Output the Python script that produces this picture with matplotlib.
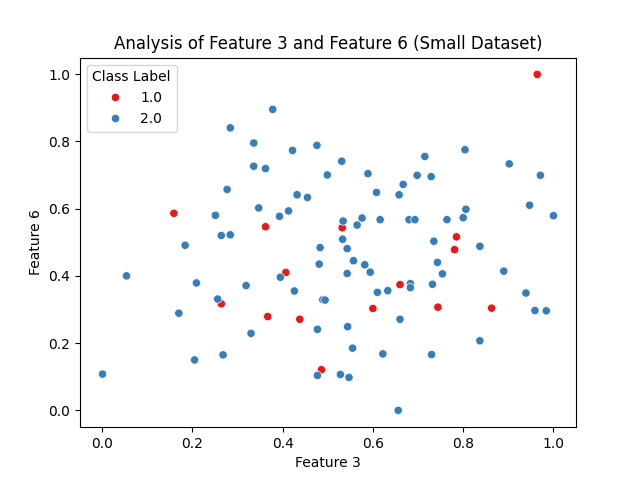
import numpy as np
import pandas as pd
import matplotlib
matplotlib.use("Agg")
import matplotlib.pyplot as plt
import seaborn as sns

# class 1.0 points
x_c1 = [0.964, 0.159, 0.362, 0.532, 0.785, 0.781, 0.407, 0.264, 0.367, 0.438,
        0.600, 0.660, 0.744, 0.863, 0.486]
y_c1 = [0.999, 0.586, 0.546, 0.543, 0.516, 0.478, 0.410, 0.317, 0.279, 0.271,
        0.303, 0.374, 0.307, 0.304, 0.121]

# class 2.0 points
x_c2 = [0.378, 0.284, 0.336, 0.422, 0.476, 0.336, 0.362, 0.499, 0.277, 0.432,
        0.455, 0.347, 0.251, 0.393, 0.413, 0.264, 0.284, 0.184, 0.483,
        0.804, 0.715, 0.531, 0.902, 0.589, 0.698, 0.729, 0.971, 0.667, 0.608,
        0.658, 0.947, 0.806, 0.800, 1.000, 0.534, 0.576, 0.565, 0.616, 0.680,
        0.693, 0.764, 0.533, 0.735, 0.837, 0.543,
        0.481, 0.054, 0.209, 0.395, 0.319, 0.426, 0.256, 0.489, 0.494, 0.170,
        0.477, 0.330, 0.268, 0.205, 0.001, 0.477,
        0.557, 0.582, 0.543, 0.594, 0.743, 0.754, 0.890, 0.683, 0.683, 0.732,
        0.610, 0.633, 0.939, 0.959, 0.984, 0.660, 0.544, 0.837, 0.555, 0.622,
        0.730, 0.528, 0.547, 0.656]
y_c2 = [0.895, 0.840, 0.795, 0.773, 0.788, 0.726, 0.719, 0.700, 0.657, 0.641,
        0.633, 0.602, 0.580, 0.577, 0.593, 0.520, 0.522, 0.491, 0.484,
        0.775, 0.755, 0.741, 0.733, 0.704, 0.699, 0.695, 0.699, 0.672, 0.648,
        0.641, 0.610, 0.598, 0.573, 0.579, 0.563, 0.572, 0.551, 0.567, 0.567,
        0.567, 0.567, 0.509, 0.503, 0.488, 0.481,
        0.435, 0.400, 0.379, 0.396, 0.371, 0.355, 0.331, 0.329, 0.328, 0.289,
        0.241, 0.229, 0.165, 0.150, 0.108, 0.104,
        0.445, 0.433, 0.407, 0.411, 0.440, 0.406, 0.414, 0.377, 0.365, 0.375,
        0.351, 0.356, 0.349, 0.297, 0.296, 0.271, 0.249, 0.207, 0.185, 0.168,
        0.166, 0.107, 0.098, 0.000]

df = pd.DataFrame({
    "Feature 3": x_c1 + x_c2,
    "Feature 6": y_c1 + y_c2,
    "Class Label": [1.0] * len(x_c1) + [2.0] * len(x_c2),
})

fig, ax = plt.subplots(figsize=(6.4, 4.8), dpi=100)
sns.scatterplot(data=df, x="Feature 3", y="Feature 6", hue="Class Label",
                palette=["#e41a1c", "#377eb8"], ax=ax)
ax.set_title("Analysis of Feature 3 and Feature 6 (Small Dataset)")
ax.legend(title="Class Label", loc="upper left")

fig.savefig("out.png")
